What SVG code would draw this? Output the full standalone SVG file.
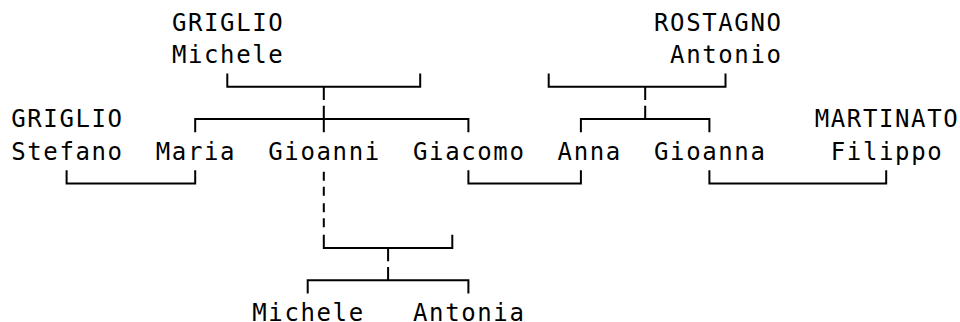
<svg xmlns="http://www.w3.org/2000/svg" width="960" height="322" viewBox="0 0 960 322">
<style>
text{font-family:"DejaVu Sans Mono","Liberation Mono",monospace;font-size:24px;letter-spacing:1.62px;fill:#000}
.c path{fill:none;stroke:#000;stroke-width:2;stroke-linejoin:miter;stroke-linecap:butt}
</style>
<rect width="960" height="322" fill="#fff"/>
<g id="n-griglio-michele"><text x="171.9" y="30.7">GRIGLIO</text><text x="171.9" y="62.95">Michele</text></g>
<g id="n-rostagno-antonio"><text x="654" y="30.7">ROSTAGNO</text><text x="670.1" y="62.95">Antonio</text></g>
<g id="n-griglio-stefano"><text x="11.2" y="127.45">GRIGLIO</text><text x="11.2" y="159.7">Stefano</text></g>
<g id="n-maria"><text x="155.8" y="159.7">Maria</text></g>
<g id="n-gioanni"><text x="268.3" y="159.7">Gioanni</text></g>
<g id="n-giacomo"><text x="413" y="159.7">Giacomo</text></g>
<g id="n-anna"><text x="557.6" y="159.7">Anna</text></g>
<g id="n-gioanna"><text x="654" y="159.7">Gioanna</text></g>
<g id="n-martinato-filippo"><text x="814.7" y="127.45">MARTINATO</text><text x="830.8" y="159.7">Filippo</text></g>
<g id="n-michele"><text x="252.25" y="320.5">Michele</text></g>
<g id="n-antonia"><text x="413" y="320.5">Antonia</text></g>
<g id="connectors" class="c">
<path d="M227.3,73.5V86.7H420.2V73.5M323.8,86.7V99.9"/>
<path d="M195.2,132.15V118.95H468.4V132.15M323.8,105.75V132.15"/>
<path d="M548.7,73.5V86.7H725.5V73.5M645.2,86.7V99.9"/>
<path d="M580.9,132.15V118.95H709.4V132.15M645.2,105.75V118.95"/>
<path d="M66.6,170.25V183.45H195.2V170.25"/>
<path d="M468.4,170.25V183.45H580.9V170.25"/>
<path d="M709.4,170.25V183.45H886.2V170.25"/>
<path d="M323.8,171.7V180.7M323.8,186.7V195.7M323.8,203.3V212.3M323.8,218.3V227.3"/>
<path d="M323.8,234.75V247.95H452.3V234.75M388.1,247.95V261.15"/>
<path d="M307.7,293.4V280.2H468.4V293.4M388.1,267V280.2"/>
</g>
</svg>
